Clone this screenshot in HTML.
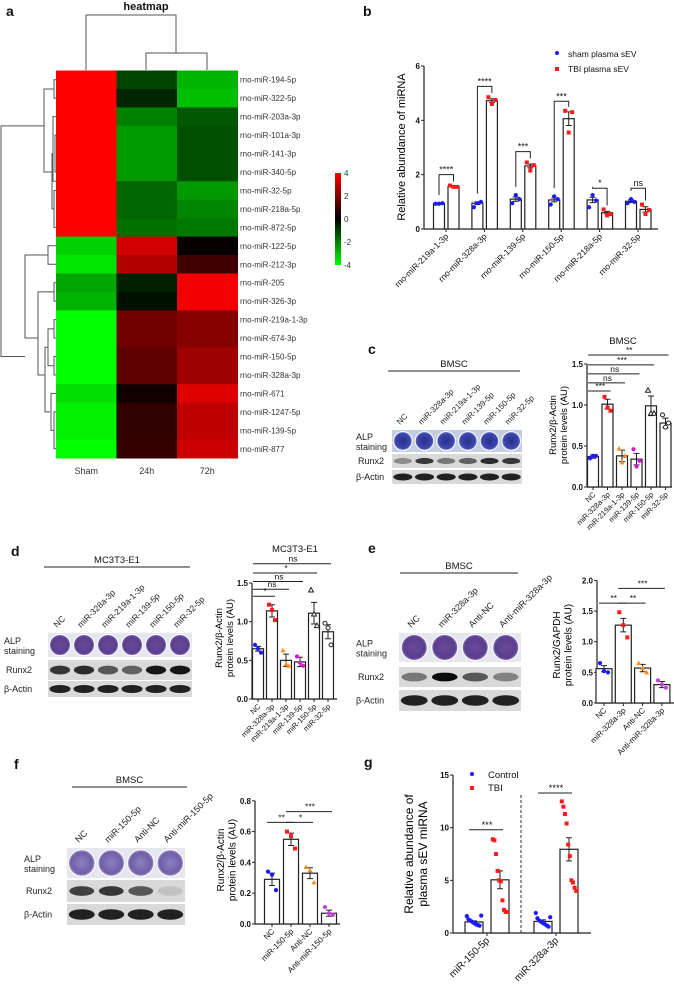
<!DOCTYPE html>
<html><head><meta charset="utf-8">
<style>
html,body{margin:0;padding:0;background:#fff;}
svg{display:block;font-family:"Liberation Sans",Arial,sans-serif;}
</style></head>
<body>
<svg id="fig" width="674" height="995" viewBox="0 0 674 995" xmlns="http://www.w3.org/2000/svg">
<defs>
<linearGradient id="cbar" x1="0" y1="0" x2="0" y2="1">
<stop offset="0" stop-color="#ff0000"/><stop offset="0.5" stop-color="#000000"/><stop offset="1" stop-color="#00ff00"/>
</linearGradient>
<radialGradient id="alpBlue"><stop offset="0" stop-color="#2a2f8a"/><stop offset="0.8" stop-color="#3d47b0"/><stop offset="1" stop-color="#7d86cc"/></radialGradient>
<radialGradient id="alpPurple"><stop offset="0" stop-color="#6a4a9a"/><stop offset="0.8" stop-color="#5a3f8e"/><stop offset="1" stop-color="#8e78b8"/></radialGradient>
<radialGradient id="alpLight"><stop offset="0" stop-color="#8f7fc0"/><stop offset="0.8" stop-color="#6f5fa8"/><stop offset="1" stop-color="#a89ad0"/></radialGradient>
</defs>
</svg>
<script>
// ---------- DATA ----------
const heatRows = ["rno-miR-194-5p","rno-miR-322-5p","rno-miR-203a-3p","rno-miR-101a-3p","rno-miR-141-3p","rno-miR-340-5p","rno-miR-32-5p","rno-miR-218a-5p","rno-miR-872-5p","rno-miR-122-5p","rno-miR-212-3p","rno-miR-205","rno-miR-326-3p","rno-miR-219a-1-3p","rno-miR-674-3p","rno-miR-150-5p","rno-miR-328a-3p","rno-miR-671","rno-miR-1247-5p","rno-miR-139-5p","rno-miR-877"];
const heatCols = ["Sham","24h","72h"];
const heatSham = [4,4,4,4,4,4,4,4,4,-3.3,-3.6,-2.6,-2.8,-4,-4,-4,-4,-3.5,-3.8,-3.8,-4];
const heat24 = [-1.1,-0.6,-2.0,-2.4,-2.4,-2.4,-1.6,-1.6,-1.75,3.3,2.8,-0.5,-0.25,1.75,1.75,1.5,1.5,0.25,0.75,0.75,0.85];
const heat72 = [-2.8,-3.0,-1.4,-1.25,-1.25,-1.25,-2.4,-2.1,-1.9,0.1,1.0,3.8,3.8,2.1,2.1,2.5,2.5,3.5,3.0,3.0,3.2];
const heatTicks = [4,2,0,-2,-4];

const bCats = ["rno-miR-219a-1-3p","rno-miR-328a-3p","rno-miR-139-5p","rno-miR-150-5p","rno-miR-218a-5p","rno-miR-32-5p"];
const bSham = [0.93,0.95,1.1,1.07,1.07,1.02];
const bTBI = [1.57,4.72,2.32,4.06,0.6,0.72];
const bShamErr = [0.02,0.05,0.08,0.07,0.1,0.05];
const bTBIErr = [0.03,0.07,0.07,0.25,0.05,0.1];
const bShamPts = [[0.93,0.93,0.95],[0.8,0.95,1.0],[0.95,1.25,1.1],[0.9,1.2,1.1],[0.8,1.25,1.05],[0.95,1.1,1.0]];
const bTBIPts = [[1.6,1.55,1.55],[4.85,4.6,4.75],[2.45,2.15,2.35],[4.35,3.55,4.3],[0.72,0.5,0.55],[0.9,0.55,0.7]];
const bSig = ["****","****","***","***","*","ns"];
const bSigLevel = [2.0,5.25,2.85,4.7,1.5,1.5];
const bTicks = [0,2,4,6];

const cCats = ["NC","miR-328a-3p","miR-219a-1-3p","miR-139-5p","miR-150-5p","miR-32-5p"];
const cVals = [0.37,1.01,0.38,0.34,0.99,0.78];
const cErr = [0.02,0.06,0.07,0.07,0.12,0.06];
const cPts = [[0.35,0.38,0.38],[1.1,0.97,0.93],[0.47,0.3,0.38],[0.46,0.25,0.32],[1.18,0.9,0.9],[0.88,0.73,0.78]];
const cSigPairs = [[0,1],[0,2],[0,3],[0,4],[0,5]];
const cSigLevel = [1.17,1.27,1.38,1.49,1.61];
const cSigText = ["***","ns","ns","***","**"];
const cTicks = [0,0.5,1.0,1.5];
const cRunx = [0.35,0.75,0.45,0.55,0.8,0.75];

const dCats = ["NC","miR-328a-3p","miR-219a-1-3p","miR-139-5p","miR-150-5p","miR-32-5p"];
const dVals = [0.65,1.14,0.50,0.48,1.11,0.87];
const dErr = [0.03,0.08,0.08,0.06,0.14,0.09];
const dPts = [[0.7,0.65,0.6],[1.22,1.15,1.02],[0.63,0.45,0.43],[0.55,0.47,0.43],[1.41,1.1,0.95],[0.98,0.92,0.7]];
const dSigPairs = [[0,1],[0,2],[0,3],[0,4],[0,5]];
const dSigLevel = [1.33,1.42,1.52,1.63,1.75];
const dSigText = ["*","ns","ns","*","ns"];
const dTicks = [0,0.5,1.0,1.5];
const dRunx = [0.75,0.8,0.6,0.55,0.9,0.9];

const eCats = ["NC","miR-328a-3p","Anti-NC","Anti-miR-328a-3p"];
const eVals = [0.56,1.27,0.57,0.30];
const eErr = [0.05,0.11,0.06,0.05];
const ePts = [[0.65,0.52,0.5],[1.48,1.27,1.07],[0.65,0.57,0.5],[0.37,0.3,0.25]];
const eSigPairs = [[0,1],[1,2],[1,3]];
const eSigLevel = [1.63,1.63,1.87];
const eSigText = ["**","**","***"];
const eTicks = [0,0.5,1.0,1.5,2.0];
const eRunx = [0.45,0.95,0.6,0.4];

const fCats = ["NC","miR-150-5p","Anti-NC","Anti-miR-150-5p"];
const fVals = [0.29,0.55,0.33,0.07];
const fErr = [0.04,0.04,0.035,0.02];
const fPts = [[0.34,0.32,0.22],[0.6,0.57,0.49],[0.37,0.35,0.27],[0.11,0.07,0.06]];
const fSigPairs = [[0,1],[1,2],[1,3]];
const fSigLevel = [0.66,0.66,0.73];
const fSigText = ["**","*","***"];
const fTicks = [0,0.2,0.4,0.6,0.8];
const fRunx = [0.7,0.75,0.6,0.1];

const gCats = ["miR-150-5p","miR-328a-3p"];
const gCtrl = [1.05,1.1];
const gTBI = [5.05,7.95];
const gCtrlErr = [0.1,0.15];
const gTBIErr = [0.85,1.1];
const gCtrlPts = [[1.6,1.3,1.2,1.1,1.0,0.9,0.8,0.75,0.7,1.65],[1.9,1.4,1.2,1.1,1.0,0.9,0.8,0.7,0.6,1.5]];
const gTBIPts = [[8.9,8.8,7.5,5.9,5.0,4.9,3.1,2.2,2.0,2.0],[12.5,12.0,11.3,10.4,8.4,7.3,5.0,4.8,4.3,4.0]];
const gSig = ["***","****"];
const gSigLevel = [9.8,13.3];
const gTicks = [0,5,10,15];

// ---------- HELPERS ----------
const NS='http://www.w3.org/2000/svg';
const svg=document.getElementById('fig');
function mk(tag, attrs, name, parent){
  const el=document.createElementNS(NS,tag);
  for(const k in attrs) el.setAttribute(k,attrs[k]);
  
  
  (parent||svg).appendChild(el);
  return el;
}
function tx(x,y,s,attrs,name,parent){
  const a=Object.assign({x:x,y:y,'font-size':9,fill:'#111'},attrs||{});
  const el=mk('text',a,name,parent);
  el.textContent=s;
  return el;
}
function line(x1,y1,x2,y2,name,w,col){
  return mk('line',{x1:x1,y1:y1,x2:x2,y2:y2,stroke:col||'#222','stroke-width':w||1},name);
}
function heatColor(v){
  const t=Math.min(1,Math.abs(v)/4);
  const c=Math.round(t*255);
  return v>=0?`rgb(${c},0,0)`:`rgb(0,${c},0)`;
}

// ---------- PANEL LETTERS ----------
[['a',6,16],['b',363,16],['c',368,354],['d',11,556],['e',368,553],['f',14,769],['g',364,767]].forEach(p=>{
  tx(p[1],p[2],p[0],{'font-size':14,'font-weight':'bold'},'panel-label-'+p[0]);
});

// ---------- HEATMAP ----------
(function(){
  const x0=56, y0=70.5, cw=60.5, rh=(458-70.5)/heatRows.length;
  const cols=[heatSham,heat24,heat72];
  tx(146,10,'heatmap',{'font-size':11,'font-weight':'bold','text-anchor':'middle'},'heatmap-title');
  cols.forEach((arr,ci)=>{
    arr.forEach((v,ri)=>{
      mk('rect',{x:x0+ci*cw,y:y0+ri*rh,width:cw+0.5,height:rh+0.5,fill:heatColor(v)},'heatmap-cell-'+ci+'-'+ri);
    });
    tx(x0+ci*cw+cw/2,474,heatCols[ci],{'font-size':9,'text-anchor':'middle','fill':'#333'},'heatmap-col-label');
  });
  heatRows.forEach((r,ri)=>{
    tx(240,y0+ri*rh+rh/2+3,r,{'font-size':8,'fill':'#333'},'heatmap-row-label');
  });
  const cd='M86,70 V15 H176 V53 M146,70 V53 H207 V70';
  mk('path',{d:cd,fill:'none',stroke:'#555','stroke-width':1},'column-dendrogram');
  const yc=i=>y0+i*rh+rh/2;
  const rd=`M56,${yc(0)} H54 V${yc(1)} H56 M54,${yc(0.5)} H44 V${yc(5)} H52
  M56,${yc(2)} H53 V${yc(5.5)} H56 M56,${yc(3)} H55 V${yc(5)} H56
  M56,${yc(6)} H54 V${yc(8)} H56 M54,${yc(7)} H52 V${yc(4)} H53
  M44,${yc(2.5)} H1 V${yc(15)} H25
  M56,${yc(9)} H48 V${yc(10)} H56 M48,${yc(9.5)} H25 V${yc(14)} H38
  M56,${yc(11)} H54 V${yc(12)} H56 M54,${yc(11.5)} H38 V${yc(16)} H45
  M56,${yc(13)} H54 V${yc(14)} H56 M56,${yc(15)} H54 V${yc(16)} H56 M54,${yc(13.5)} H48 V${yc(15.5)} H54 M48,${yc(14.5)} H45 V${yc(18)} H50
  M56,${yc(18)} H54 V${yc(20)} H56 M56,${yc(17)} H51 V${yc(19)} H54`;
  mk('path',{d:rd,fill:'none',stroke:'#555','stroke-width':1},'row-dendrogram');
  mk('rect',{x:335,y:173,width:6,height:92,fill:'url(#cbar)'},'heatmap-colorbar');
  heatTicks.forEach(t=>{
    const y=173+(4-t)/8*92;
    tx(344,y+3,String(t),{'font-size':8,'fill':'#333'},'colorbar-tick-label');
  });
})();

// ---------- GENERIC BAR CHART ----------
function barChart(c){
  const Y=v=>c.y0-v*c.ppu;
  const X=(i,s)=>c.cx(i,s||0);
  line(c.ax,c.y0+0.5,c.ax,Y(c.ticks[c.ticks.length-1]),c.id+'-y-axis',1.2);
  line(c.ax,c.y0,c.axEnd,c.y0,c.id+'-x-axis',1.2);
  c.ticks.forEach(t=>{
    line(c.ax-3,Y(t),c.ax,Y(t),c.id+'-y-tick');
    tx(c.ax-4,Y(t)+3,c.tickFmt(t),{'font-size':c.tickFs||8,'font-weight':'bold','text-anchor':'end'},c.id+'-y-tick-label');
  });
  c.series.forEach((s,si)=>{
    s.vals.forEach((v,i)=>{
      const x=X(i,si);
      mk('rect',{x:x-c.bw/2,y:Y(v),width:c.bw,height:v*c.ppu,fill:'#fff',stroke:'#222','stroke-width':1.2},c.id+'-bar-'+si+'-'+i);
      const e=s.err[i];
      mk('path',{d:`M${x},${Y(v-e)} V${Y(v+e)} M${x-3},${Y(v+e)} H${x+3} M${x-3},${Y(v-e)} H${x+3}`,fill:'none',stroke:'#222','stroke-width':1},c.id+'-error-bar');
      const pts=s.pts[i];
      pts.forEach((p,pi)=>{
        const off=(pi-(pts.length-1)/2)*(c.jit||3.5);
        const col=Array.isArray(s.color)?s.color[i]:s.color;
        const shp=Array.isArray(s.shape)?s.shape[i]:s.shape;
        const px=x+off, py=Y(p);
        if(shp==='sq') mk('rect',{x:px-2,y:py-2,width:4,height:4,fill:col},c.id+'-point');
        else if(shp==='tri') mk('path',{d:`M${px},${py-2.5} L${px+2.5},${py+2} L${px-2.5},${py+2} Z`,fill:'#fff',stroke:col,'stroke-width':1},c.id+'-point');
        else if(shp==='tri0') mk('path',{d:`M${px},${py-2.5} L${px+2.5},${py+2} L${px-2.5},${py+2} Z`,fill:col},c.id+'-point');
        else if(shp==='ocirc') mk('circle',{cx:px,cy:py,r:2,fill:'#fff',stroke:col,'stroke-width':1},c.id+'-point');
        else mk('circle',{cx:px,cy:py,r:2.1,fill:col},c.id+'-point');
      });
    });
  });
  c.cats.forEach((cat,i)=>{
    const x=c.labX(i);
    line(x,c.y0,x,c.y0+3,c.id+'-x-tick');
    tx(x+3,c.y0+8,cat,{'font-size':c.labFs||8,'text-anchor':'end',transform:`rotate(-45 ${x+3} ${c.y0+8})`},c.id+'-x-label');
  });
  if(c.sig){
    c.sig.pairs.forEach((pr,k)=>{
      const y=Y(c.sig.level[k]);
      const xa=X(pr[0],c.sig.s0||0), xb=X(pr[1],c.sig.s1===undefined?0:c.sig.s1);
      if(c.sig.bracket){
        mk('path',{d:`M${xa},${Y(c.sig.low[k][0])} V${y} H${xb} V${Y(c.sig.low[k][1])}`,fill:'none',stroke:'#222','stroke-width':1},c.id+'-sig-bracket');
      } else {
        line(xa-5,y,xb+3,y,c.id+'-sig-line');
      }
      tx((xa+xb)/2,y-2,c.sig.text[k],{'font-size':c.sig.fs||9,'text-anchor':'middle'},c.id+'-sig-label');
    });
  }
  if(c.title) tx(c.title[0],c.title[1],c.title[2],{'font-size':9.5,'text-anchor':'middle'},c.id+'-title');
  if(c.ytitle){
    const t=mk('text',{x:0,y:0,'font-size':c.ytFs||10,'text-anchor':'middle',transform:`translate(${c.ytitle[0]},${c.ytitle[1]}) rotate(-90)`},c.id+'-y-axis-title');
    c.ytitle[2].forEach((s,k)=>{
      const ts=mk('tspan',{x:0,dy:k===0?0:(c.ytFs||10)*1.15},c.id+'-y-axis-title-line',t);
      ts.textContent=s;
    });
  }
}

// ---------- PANEL B ----------
barChart({id:'b',ax:424,axEnd:658,y0:229,ppu:27.17,bw:11,
  cx:(i,s)=>439+i*38.4+s*14.5, labX:i=>446+i*38.4,
  ticks:bTicks,tickFmt:t=>String(t),cats:bCats,labFs:8.5,
  series:[{vals:bSham,err:bShamErr,pts:bShamPts,color:'#1a1aff',shape:'c'},{vals:bTBI,err:bTBIErr,pts:bTBIPts,color:'#ff1a1a',shape:'sq'}],
  sig:{pairs:bCats.map((_,i)=>[i,i]),s0:0,s1:1,level:bSigLevel,text:bSig,bracket:true,fs:9,
    low:bCats.map((_,i)=>[Math.max(...bShamPts[i])+0.3,Math.max(...bTBIPts[i])+0.15])},
  ytitle:[405,147,['Relative abundance of miRNA']],ytFs:11});
mk('circle',{cx:557,cy:53,r:2,fill:'#1a1aff'},'legend-sham-marker');
tx(568,57,'sham plasma sEV',{'font-size':8.5},'legend-sham-label');
mk('rect',{x:555,y:67,width:4,height:4,fill:'#ff1a1a'},'legend-tbi-marker');
tx(568,72,'TBI plasma sEV',{'font-size':8.5},'legend-tbi-label');

// ---------- PANEL C ----------
barChart({id:'c',ax:587,axEnd:672,y0:487,ppu:82,bw:11,
  cx:i=>593+i*14.5, labX:i=>593+i*14.5, ticks:cTicks,tickFmt:t=>t.toFixed(1),cats:cCats,labFs:7.5,jit:3,
  series:[{vals:cVals,err:cErr,pts:cPts,color:['#1a1aff','#ff1a1a','#ff8a1a','#d01ad0','#222','#222'],shape:['c','sq','tri0','c','tri','ocirc']}],
  sig:{pairs:cSigPairs,level:cSigLevel,text:cSigText,fs:8.5},
  title:[623,344,'BMSC'],ytitle:[556,425,['Runx2/β-Actin','protein levels (AU)']],ytFs:9.5});

// ---------- PANEL D ----------
barChart({id:'d',ax:252,axEnd:337,y0:699,ppu:77.3,bw:11,
  cx:i=>258+i*14, labX:i=>258+i*14, ticks:dTicks,tickFmt:t=>t.toFixed(1),cats:dCats,labFs:7.5,jit:3,
  series:[{vals:dVals,err:dErr,pts:dPts,color:['#1a1aff','#ff1a1a','#ff8a1a','#d01ad0','#222','#222'],shape:['c','sq','tri0','c','tri','ocirc']}],
  sig:{pairs:dSigPairs,level:dSigLevel,text:dSigText,fs:8.5},
  title:[295,552,'MC3T3-E1'],ytitle:[222,638,['Runx2/β-Actin','protein levels (AU)']],ytFs:9.5});

// ---------- PANEL E ----------
barChart({id:'e',ax:597,axEnd:674,y0:703,ppu:61.3,bw:16,
  cx:i=>604+i*19.3, labX:i=>604+i*19.3, ticks:eTicks,tickFmt:t=>t.toFixed(1),cats:eCats,labFs:8,jit:4,
  series:[{vals:eVals,err:eErr,pts:ePts,color:['#1a1aff','#ff1a1a','#ff8a1a','#c040e0'],shape:['c','sq','tri0','c']}],
  sig:{pairs:eSigPairs,level:eSigLevel,text:eSigText,fs:8.5},
  ytitle:[560,645,['Runx2/GAPDH','protein levels (AU)']],ytFs:10});

// ---------- PANEL F ----------
barChart({id:'f',ax:255,axEnd:340,y0:924,ppu:154,bw:15,
  cx:i=>272+i*19, labX:i=>272+i*19, ticks:fTicks,tickFmt:t=>t.toFixed(1),cats:fCats,labFs:8,jit:4,
  series:[{vals:fVals,err:fErr,pts:fPts,color:['#1a1aff','#ff1a1a','#ff8a1a','#c040e0'],shape:['c','sq','tri0','c']}],
  sig:{pairs:fSigPairs,level:fSigLevel,text:fSigText,fs:8.5},
  ytitle:[224,860,['Runx2/β-Actin','protein levels (AU)']],ytFs:10});

// ---------- PANEL G ----------
barChart({id:'g',ax:453,axEnd:591,y0:933,ppu:10.53,bw:18,
  cx:(i,s)=>474+i*69+s*26, labX:i=>487+i*69, ticks:gTicks,tickFmt:t=>String(t),cats:gCats,labFs:10,jit:1.6,
  series:[{vals:gCtrl,err:gCtrlErr,pts:gCtrlPts,color:'#1a1aff',shape:'c'},{vals:gTBI,err:gTBIErr,pts:gTBIPts,color:'#ff1a1a',shape:'sq'}],
  sig:{pairs:gCats.map((_,i)=>[i,i]),s0:0,s1:1,level:gSigLevel,text:gSig,fs:9.5},
  ytitle:[413,854,['Relative abundance of','plasma sEV miRNA']],ytFs:12});
mk('line',{x1:521,y1:795,x2:521,y2:933,stroke:'#333','stroke-width':1,'stroke-dasharray':'3,2'},'g-group-divider');
mk('circle',{cx:472,cy:774,r:2,fill:'#1a1aff'},'legend-control-marker');
tx(488,778,'Control',{'font-size':9.5},'legend-control-label');
mk('rect',{x:470,y:786,width:4,height:4,fill:'#ff1a1a'},'legend-tbi-g-marker');
tx(488,791,'TBI',{'font-size':9.5},'legend-tbi-g-label');

// ---------- WESTERN BLOTS ----------
function blot(b){
  const n=b.lanes.length, lw=b.w/n;
  line(b.lineX[0],b.lineY,b.lineX[1],b.lineY,b.id+'-group-line',1);
  tx((b.lineX[0]+b.lineX[1])/2,b.lineY-4,b.title,{'font-size':9.5,'text-anchor':'middle'},b.id+'-group-title');
  mk('rect',{x:b.x,y:b.alp[0],width:b.w,height:b.alp[1],fill:b.alpBg},b.id+'-alp-row');
  mk('rect',{x:b.x,y:b.run[0],width:b.w,height:b.run[1],fill:'#d9d9d9'},b.id+'-runx2-row');
  mk('rect',{x:b.x,y:b.act[0],width:b.w,height:b.act[1],fill:'#d9d9d9'},b.id+'-actin-row');
  const r=Math.min(lw,b.alp[1])/2-1.5;
  b.lanes.forEach((ln,i)=>{
    const cx=b.x+lw*i+lw/2;
    mk('circle',{cx:cx,cy:b.alp[0]+b.alp[1]/2,r:r,fill:b.alpFill,stroke:'#fff','stroke-width':1},b.id+'-alp-well');
    mk('ellipse',{cx:cx,cy:b.run[0]+b.run[1]/2,rx:lw*0.42,ry:b.run[1]*0.22,fill:'#000','fill-opacity':b.runx[i]},b.id+'-runx2-band');
    mk('ellipse',{cx:cx,cy:b.act[0]+b.act[1]/2,rx:lw*0.44,ry:b.act[1]*0.25,fill:'#000','fill-opacity':0.85},b.id+'-actin-band');
    const lx=cx-3, ly=b.alp[0]-5;
    tx(lx,ly,ln,{'font-size':b.lfs||8.5,transform:`rotate(-45 ${lx} ${ly})`,'fill':'#222'},b.id+'-lane-label');
  });
  tx(b.labX,b.alp[0]+b.alp[1]/2-1,'ALP',{'font-size':9,'fill':'#222'},b.id+'-alp-label');
  tx(b.labX,b.alp[0]+b.alp[1]/2+9,'staining',{'font-size':9,'fill':'#222'},b.id+'-alp-label-2');
  tx(b.labX+2,b.run[0]+b.run[1]/2+3,'Runx2',{'font-size':9,'fill':'#222'},b.id+'-runx2-label');
  tx(b.labX,b.act[0]+b.act[1]/2+3,'β-Actin',{'font-size':9,'fill':'#222'},b.id+'-actin-label');
}
blot({id:'c',x:392,w:130,lanes:cCats,runx:cRunx,alp:[430,22],run:[454,14],act:[470,14],alpBg:'#c5cde2',alpFill:'url(#alpBlue)',labX:356,lineX:[388,520],lineY:371,title:'BMSC',lfs:8});
blot({id:'d',x:48,w:144,lanes:dCats,runx:dRunx,alp:[633,24],run:[660,20],act:[681,16],alpBg:'#e6e6ee',alpFill:'url(#alpPurple)',labX:4,lineX:[44,190],lineY:567,title:'MC3T3-E1',lfs:8.5});
blot({id:'e',x:399,w:122,lanes:eCats,runx:eRunx,alp:[633,29],run:[667,20],act:[690,21],alpBg:'#e6e6ee',alpFill:'url(#alpPurple)',labX:356,lineX:[400,518],lineY:573,title:'BMSC',lfs:9});
blot({id:'f',x:67,w:118,lanes:fCats,runx:fRunx,alp:[848,30],run:[880,22],act:[904,21],alpBg:'#e6e6ee',alpFill:'url(#alpLight)',labX:24,lineX:[72,187],lineY:787,title:'BMSC',lfs:9});
</script>
</body></html>
